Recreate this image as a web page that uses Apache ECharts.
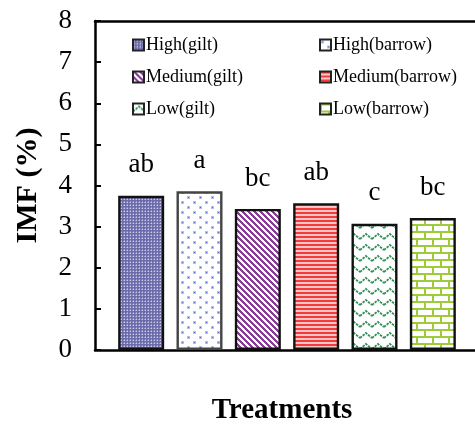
<!DOCTYPE html>
<html>
<head>
<meta charset="utf-8">
<script src="https://cdn.jsdelivr.net/npm/echarts@6/dist/echarts.min.js"></script>
<style>
  html, body { margin: 0; padding: 0; background: #fff; }
  #chart { width: 475px; height: 425px; }
</style>
</head>
<body>
<div id="chart"></div>
<script>
// Intramuscular fat by feeding level and sex
const treatments = ['High(gilt)', 'High(barrow)', 'Medium(gilt)', 'Medium(barrow)', 'Low(gilt)', 'Low(barrow)'];
const imfValues = [3.75, 3.86, 3.43, 3.57, 3.07, 3.21];
const sigLetters = ['ab', 'a', 'bc', 'ab', 'c', 'bc'];
const yTicks = [0, 1, 2, 3, 4, 5, 6, 7, 8];

const SERIF = "'Liberation Serif', 'Times New Roman', serif";

function tile(w, h, draw) {
  const c = document.createElement('canvas');
  c.width = w; c.height = h;
  const g = c.getContext('2d');
  g.fillStyle = '#fff';
  g.fillRect(0, 0, w, h);
  draw(g);
  return { image: c, repeat: 'repeat' };
}

// fill patterns for each treatment
const patterns = [
  // fine checker, blue-grey
  tile(3, 3, g => {
    g.fillStyle = '#6c6caa'; g.fillRect(0, 0, 3, 3);
    g.fillStyle = '#cacae8'; g.fillRect(1, 1, 1, 1);
    g.fillStyle = '#9a9acc'; g.fillRect(0, 1, 1, 1); g.fillRect(1, 0, 1, 1);
  }),
  // sparse blue dots
  tile(12, 10, g => {
    g.fillStyle = '#b3c0ea';
    g.fillRect(1, 1, 3, 3); g.fillRect(7, 6, 3, 3);
    g.fillStyle = '#4f6fcb';
    g.fillRect(2, 2, 1, 1); g.fillRect(8, 7, 1, 1);
  }),
  // purple diagonal stripes
  tile(6, 6, g => {
    g.fillStyle = '#8a3a98';
    for (let y = 0; y < 6; y++) {
      for (let k = -1; k < 2; k++) {
        g.fillRect(y + k * 6, y, 3, 1);
      }
    }
  }),
  // red horizontal stripes
  tile(4, 4, g => {
    g.fillStyle = '#f03c3c'; g.fillRect(0, 0, 4, 2);
    g.fillStyle = '#ffc4c4'; g.fillRect(0, 2, 4, 2);
  }),
  // green zigzag
  tile(12, 11, g => {
    g.strokeStyle = '#2f8f55';
    g.lineWidth = 1.8;
    g.setLineDash([2.5, 1]);
    g.beginPath();
    g.moveTo(0, 8); g.lineTo(6, 3); g.lineTo(12, 8);
    g.stroke();
  }),
  // yellow-green bricks
  tile(16, 14, g => {
    g.fillStyle = '#9dcb3a';
    g.fillRect(0, 0, 16, 2);
    g.fillRect(0, 7, 16, 2);
    g.fillRect(0, 0, 2, 7);
    g.fillRect(8, 7, 2, 7);
  })
];
const borderColors = ['#111', '#444', '#111', '#111', '#111', '#111'];

const series = treatments.map((name, i) => ({
  name: name,
  type: 'bar',
  xAxisIndex: 0,
  yAxisIndex: 0,
  barWidth: 46,
  barGap: '-100%',
  data: treatments.map((_, j) => (j === i ? imfValues[j] : '-')),
  itemStyle: { color: patterns[i], borderColor: borderColors[i], borderWidth: 2.4 },
  label: {
    show: true,
    position: 'top',
    distance: 17,
    formatter: () => sigLetters[i],
    fontFamily: SERIF,
    fontSize: 27,
    color: '#000'
  },
  emphasis: { disabled: true },
  animation: false
}));

// empty series so the frame axes are drawn
series.push({
  type: 'line', xAxisIndex: 1, yAxisIndex: 1, data: [], silent: true
});

const legendCommon = {
  orient: 'vertical',
  itemWidth: 11,
  itemHeight: 11,
  itemGap: 14,
  icon: 'rect',
  itemStyle: { borderColor: '#222', borderWidth: 2 },
  textStyle: { fontFamily: SERIF, fontSize: 18, color: '#000', padding: [0, 0, 0, -3] },
  selectedMode: false
};

const chart = echarts.init(document.getElementById('chart'), null, { renderer: 'canvas' });
chart.setOption({
  animation: false,
  backgroundColor: '#fff',
  legend: [
    Object.assign({}, legendCommon, { left: 127, top: 31, data: [treatments[0], treatments[2], treatments[4]] }),
    Object.assign({}, legendCommon, { left: 314, top: 31, data: [treatments[1], treatments[3], treatments[5]] })
  ],
  grid: [
    { left: 112, right: 13, top: 21, bottom: 75, containLabel: false, outerBoundsMode: 'none' },
    { left: 95, right: -10, top: 21, bottom: 75, containLabel: false, outerBoundsMode: 'none' }
  ],
  xAxis: [
    {
      type: 'category', gridIndex: 0, data: treatments,
      axisLine: { show: false }, axisTick: { show: false }, axisLabel: { show: false },
      name: 'Treatments', nameLocation: 'middle', nameGap: 46,
      nameTextStyle: { fontFamily: SERIF, fontSize: 29, fontWeight: 'bold', color: '#000', padding: [0, 10, 0, 0] }
    },
    {
      type: 'value', gridIndex: 1, min: 0, max: 1, position: 'bottom',
      axisLine: { show: true, onZero: false, lineStyle: { color: '#000', width: 2.5 } },
      axisTick: { show: false }, axisLabel: { show: false }, splitLine: { show: false }
    },
    {
      type: 'value', gridIndex: 1, min: 0, max: 1, position: 'top',
      axisLine: { show: true, onZero: false, lineStyle: { color: '#000', width: 2.5 } },
      axisTick: { show: false }, axisLabel: { show: false }, splitLine: { show: false }
    }
  ],
  yAxis: [
    {
      type: 'value', gridIndex: 0, min: 0, max: 8, interval: 1,
      axisLine: { show: false }, axisTick: { show: false }, axisLabel: { show: false }, splitLine: { show: false }
    },
    {
      type: 'value', gridIndex: 1, min: 0, max: 8, interval: 1,
      axisLine: { show: true, lineStyle: { color: '#000', width: 2.5 } },
      axisTick: { show: true, inside: true, length: 6, lineStyle: { color: '#000', width: 2 } },
      axisLabel: {
        fontFamily: SERIF, fontSize: 27, color: '#000', margin: 23,
        formatter: v => (yTicks.includes(v) ? String(v) : '')
      },
      splitLine: { show: false },
      name: 'IMF (%)', nameLocation: 'middle', nameGap: 52,
      nameTextStyle: { fontFamily: SERIF, fontSize: 30, fontWeight: 'bold', color: '#000' }
    }
  ],
  series: series
});
</script>
</body>
</html>
